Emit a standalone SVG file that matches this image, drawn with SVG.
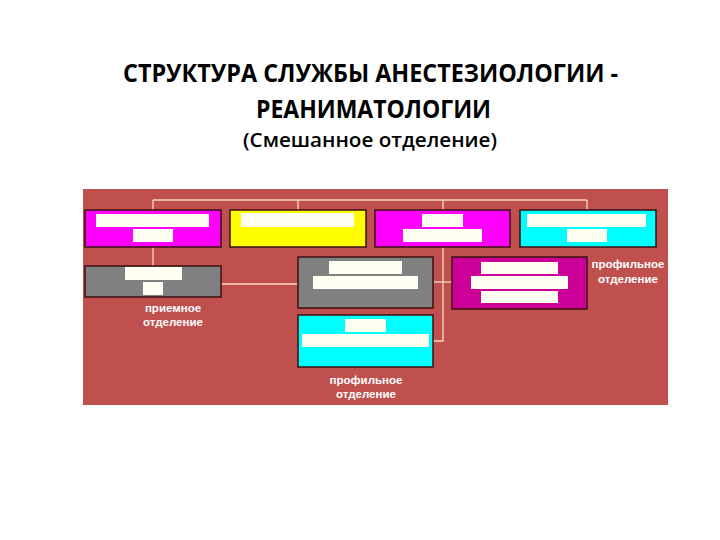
<svg xmlns="http://www.w3.org/2000/svg" width="720" height="540" viewBox="0 0 720 540">
<style>
.title{font-family:"Open Sans","Liberation Sans",sans-serif;font-weight:bold;fill:#000}
.sub{font-family:"Open Sans","Liberation Sans",sans-serif;font-weight:600;fill:#000}
.box{stroke:#3a1010;stroke-width:1.5}
.bar{fill:#FFFFF2}
.lbl{font-family:"Liberation Sans",Arial,sans-serif;font-weight:bold;font-size:11.5px;fill:#FFFFFF;text-anchor:middle}
.conn{stroke:#F8D8C0;stroke-width:1.3;fill:none}
</style>
<rect width="720" height="540" fill="#FFFFFF"/>
<g id="title">
<text class="title" x="370.5" y="82" font-size="25" text-anchor="middle" textLength="495" lengthAdjust="spacingAndGlyphs">СТРУКТУРА СЛУЖБЫ АНЕСТЕЗИОЛОГИИ -</text>
<text class="title" x="373.5" y="118" font-size="25" text-anchor="middle" textLength="235" lengthAdjust="spacingAndGlyphs">РЕАНИМАТОЛОГИИ</text>
<text class="sub" x="370" y="147" font-size="20" text-anchor="middle" textLength="254" lengthAdjust="spacingAndGlyphs">(Смешанное отделение)</text>
</g>
<rect id="background" x="83" y="189" width="585" height="216" fill="#C0504D"/>
<g id="connectors">
<path class="conn" d="M153 200 H587"/>
<path class="conn" d="M153 200 V266"/>
<path class="conn" d="M298 200 V210"/>
<path class="conn" d="M443 200 V341 H433"/>
<path class="conn" d="M587 200 V210"/>
<path class="conn" d="M221 284 H298"/>
<path class="conn" d="M433 282 H452"/>
</g>
<g id="n1">
<rect class="box" x="85" y="210" width="136" height="37" fill="#FF00FF"/>
<rect class="bar" x="96" y="214" width="113" height="13"/>
<rect class="bar" x="133" y="229" width="40" height="13"/>
</g>
<g id="n2">
<rect class="box" x="230" y="210" width="136" height="37" fill="#FFFF00"/>
<rect class="bar" x="241" y="213" width="113" height="14"/>
</g>
<g id="n3">
<rect class="box" x="375" y="210" width="135" height="37" fill="#FF00FF"/>
<rect class="bar" x="422" y="214" width="41" height="13"/>
<rect class="bar" x="403" y="229" width="79" height="13"/>
</g>
<g id="n4">
<rect class="box" x="520" y="210" width="136" height="37" fill="#00FFFF"/>
<rect class="bar" x="527" y="214" width="119" height="13"/>
<rect class="bar" x="567" y="229" width="40" height="13"/>
</g>
<g id="n5">
<rect class="box" x="85" y="266" width="136" height="31" fill="#808080"/>
<rect class="bar" x="125" y="267" width="57" height="13"/>
<rect class="bar" x="143" y="282" width="20" height="13"/>
<text class="lbl" x="173" y="312">приемное</text>
<text class="lbl" x="173" y="326">отделение</text>
</g>
<g id="n6">
<rect class="box" x="298" y="257" width="135" height="51" fill="#808080"/>
<rect class="bar" x="329" y="261" width="73" height="13"/>
<rect class="bar" x="313" y="276" width="105" height="13"/>
</g>
<g id="n7">
<rect class="box" x="452" y="257" width="135" height="52" fill="#CC0099"/>
<rect class="bar" x="481" y="262" width="77" height="12"/>
<rect class="bar" x="471" y="276" width="97" height="13"/>
<rect class="bar" x="481" y="291" width="77" height="12"/>
<text class="lbl" x="628" y="268">профильное</text>
<text class="lbl" x="628" y="283">отделение</text>
</g>
<g id="n8">
<rect class="box" x="298" y="315" width="135" height="52" fill="#00FFFF"/>
<rect class="bar" x="345" y="319" width="41" height="13"/>
<rect class="bar" x="302" y="334" width="127" height="13"/>
<text class="lbl" x="366" y="384">профильное</text>
<text class="lbl" x="366" y="398">отделение</text>
</g>
</svg>
